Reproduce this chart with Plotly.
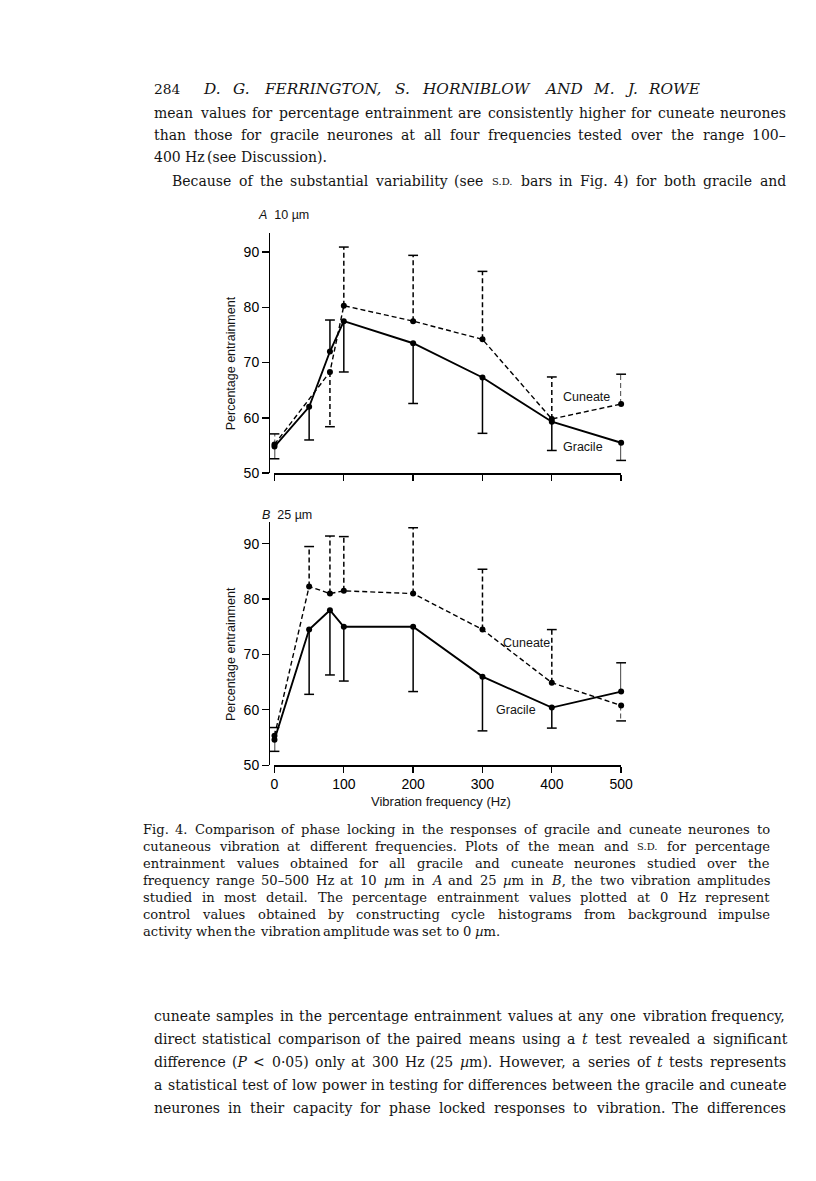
import re
import plotly.graph_objects as go

W, H = 816, 1181          # page (viewport) size
OFF = 8                   # default body margin of the html page
FW, FH = W - 2 * OFF, H - 2 * OFF   # figure size so the page fits exactly

# ---------------- data ----------------
freq_ticks = [0, 100, 200, 300, 400, 500]
y_ticks = [50, 60, 70, 80, 90]

# Panel A (10 um)
freq_A_gracile = [0, 50, 80, 100, 200, 300, 400, 500]
mean_A_gracile = [54.8, 62.0, 72.0, 77.5, 73.5, 67.3, 59.3, 55.5]
sdup_A_gracile = [0, 0, 5.7, 0, 0, 0, 0, 0]
sddn_A_gracile = [2.2, 6.0, 0, 9.2, 10.9, 10.1, 5.2, 3.2]

freq_A_cuneate = [0, 80, 100, 200, 300, 400, 500]
mean_A_cuneate = [55.2, 68.3, 80.3, 77.5, 74.2, 59.8, 62.5]
sdup_A_cuneate = [1.9, 0, 10.6, 11.9, 12.3, 7.6, 5.4]
sddn_A_cuneate = [0, 9.9, 0, 0, 0, 0, 0]

# Panel B (25 um)
freq_B_gracile = [0, 50, 80, 100, 200, 300, 400, 500]
mean_B_gracile = [54.6, 74.5, 78.0, 75.0, 75.0, 66.0, 60.4, 63.3]
sdup_B_gracile = [0, 0, 0, 0, 0, 0, 0, 5.2]
sddn_B_gracile = [2.1, 11.7, 11.7, 9.8, 11.7, 9.8, 3.7, 0]

freq_B_cuneate = [0, 50, 80, 100, 200, 300, 400, 500]
mean_B_cuneate = [55.3, 82.3, 81.0, 81.5, 81.0, 74.5, 64.9, 60.8]
sdup_B_cuneate = [1.5, 7.2, 10.4, 9.8, 11.9, 10.9, 9.6, 0]
sddn_B_cuneate = [0, 0, 0, 0, 0, 0, 0, 2.8]

header_num = "284"
header_authors = "D. G. FERRINGTON, S. HORNIBLOW AND M. J. ROWE"
body_top = [
    "mean values for percentage entrainment are consistently higher for cuneate neurones",
    "than those for gracile neurones at all four frequencies tested over the range 100–",
    "400 Hz (see Discussion).",
    "Because of the substantial variability (see {sd} bars in Fig. 4) for both gracile and",
]
caption = [
    "Fig. 4. Comparison of phase locking in the responses of gracile and cuneate neurones to",
    "cutaneous vibration at different frequencies. Plots of the mean and {sd} for percentage",
    "entrainment values obtained for all gracile and cuneate neurones studied over the",
    "frequency range 50–500 Hz at 10 *µ*m in *A* and 25 *µ*m in *B*, the two vibration amplitudes",
    "studied in most detail. The percentage entrainment values plotted at 0 Hz represent",
    "control values obtained by constructing cycle histograms from background impulse",
    "activity when the vibration amplitude was set to 0 *µ*m.",
]
body_bottom = [
    "cuneate samples in the percentage entrainment values at any one vibration frequency,",
    "direct statistical comparison of the paired means using a *t* test revealed a significant",
    "difference (*P* < 0·05) only at 300 Hz (25 *µ*m). However, a series of *t* tests represents",
    "a statistical test of low power in testing for differences between the gracile and cuneate",
    "neurones in their capacity for phase locked responses to vibration. The differences",
]

# ---------------- text helpers ----------------
SERIF = "DejaVu Serif, serif"
SANS = "Liberation Sans, Arial, Helvetica, sans-serif"
INK = "#141414"

# approximate advance widths of DejaVu Serif (units per 2048 em)
DV = {' ': 651, '.': 651, ',': 651, '(': 799, ')': 799, '-': 739, '–': 1024, '·': 651,
      '<': 1716, ':': 690, "'": 563, 'µ': 1300,
      'a': 1255, 'b': 1300, 'c': 1126, 'd': 1300, 'e': 1260, 'f': 721, 'g': 1300,
      'h': 1298, 'i': 660, 'j': 640, 'k': 1186, 'l': 660, 'm': 1995, 'n': 1298,
      'o': 1253, 'p': 1300, 'q': 1300, 'r': 980, 's': 1067, 't': 803, 'u': 1298,
      'v': 1212, 'w': 1675, 'x': 1212, 'y': 1212, 'z': 1075,
      'A': 1485, 'B': 1489, 'C': 1516, 'D': 1672, 'E': 1372, 'F': 1249, 'G': 1682,
      'H': 1632, 'I': 800, 'J': 780, 'K': 1424, 'L': 1209, 'M': 1873, 'N': 1624,
      'O': 1709, 'P': 1309, 'Q': 1709, 'R': 1508, 'S': 1378, 'T': 1326, 'U': 1589,
      'V': 1485, 'W': 2147, 'X': 1487, 'Y': 1326, 'Z': 1487}
for _d in '0123456789':
    DV[_d] = 1303

SD_SIZE = 10.0


def word_px(word, size):
    px = 0.0
    if '{sd}' in word:
        px += sum(DV[c] for c in 'S.D.') / 2048 * SD_SIZE
        word = word.replace('{sd}', '')
    px += sum(DV.get(c, 1250) for c in word.replace('*', '')) / 2048 * size
    return px


def markup(word):
    w = word.replace('<', '&lt;')
    w = w.replace('{sd}', "<span style='font-size:%gpx'>S.D.</span>" % SD_SIZE)
    w = re.sub(r'\*([^*]+)\*', r'<i>\1</i>', w)
    return w


def CX(x):
    return (x - 4.9) / 0.981


def CY(y):
    return (y + 1.5) / 0.994


def fx(px):            # page pixel -> figure paper x
    return (px - OFF) / FW


def fy(py):            # page pixel -> figure paper y
    return 1 - (py - OFF) / FH


annotations = []


def px_ann(text, x, y, size, family=SANS, xanchor='left', angle=0, color=INK):
    annotations.append(dict(
        x=fx(x), y=fy(y), xref='paper', yref='paper', xanchor=xanchor,
        yanchor='middle', text=text, showarrow=False, textangle=angle,
        borderpad=0, font=dict(family=family, size=size, color=color)))


MIN_GAP = 2.5


def place_line(text, x0, x1, y, size, justify=True, family=SERIF, scale=1.0):
    words = text.split(' ')
    n = len(words)
    widths = [word_px(w, size) * scale for w in words]
    if justify and n > 1:
        need = sum(widths) + (n - 1) * MIN_GAP
        if need > x1 - x0:
            size = size * (x1 - x0 - (n - 1) * MIN_GAP) / sum(widths)
            widths = [word_px(w, size) * scale for w in words]
        gap = (x1 - x0 - sum(widths)) / (n - 1)
    else:
        gap = DV[' '] / 2048 * size
    x = x0
    for w, wd in zip(words, widths):
        px_ann(markup(w), x, y, size, family=family)
        x += wd + gap


# header
px_ann(header_num, CX(154), CY(88), 13.8, family=SERIF)
place_line(" ".join("*%s*" % w for w in header_authors.split(' ')), CX(203), CX(702), CY(88),
           15.3, scale=1.08)

BODY = 14.0
BX0, BX1 = CX(154), CX(786)
top_y = [112, 134, 156, 180]
for i, ln in enumerate(body_top):
    if i == 2:
        place_line(ln, BX0, BX1, CY(top_y[i]), BODY, justify=False)
    elif i == 3:
        place_line(ln, CX(172), BX1, CY(top_y[i]), BODY)
    else:
        place_line(ln, BX0, BX1, CY(top_y[i]), BODY)

bot_y = [1015, 1038, 1061, 1084, 1107]
for ln, y in zip(body_bottom, bot_y):
    place_line(ln, BX0, BX1, CY(y), BODY)

CAP = 13.1
for i, ln in enumerate(caption):
    place_line(ln, CX(143), CX(770), CY(829 + 17 * i), CAP, justify=(i < len(caption) - 1))

# ---------------- chart geometry (page pixels) ----------------
X0_PX, X500_PX = CX(275.5), CX(622.5)
YAX_PX = CX(270.0)
A_BOT, A_TOP, A_90 = CY(472.0), CY(232.0), CY(250.7)
B_BOT, B_TOP, B_90 = CY(764.3), CY(521.0), CY(542.7)
A_RANGE = [50, 50 + 40 * (A_BOT - A_TOP) / (A_BOT - A_90)]
B_RANGE = [50, 50 + 40 * (B_BOT - B_TOP) / (B_BOT - B_90)]

fig = go.Figure()


def add_series(xs, ys, up, dn, xa, ya, dash, lw):
    fig.add_trace(go.Scatter(
        x=xs, y=ys, mode='lines+markers', xaxis=xa, yaxis=ya, cliponaxis=False,
        line=dict(color='black', width=lw, dash=dash),
        marker=dict(color='black', size=6), hoverinfo='skip'))
    ex, ey, cx, cy = [], [], [], []
    for x, m, u, d in zip(xs, ys, up, dn):
        if u > 0:
            ex += [x, x, None]
            ey += [m, m + u, None]
            cx.append(x)
            cy.append(m + u)
        if d > 0:
            ex += [x, x, None]
            ey += [m, m - d, None]
            cx.append(x)
            cy.append(m - d)
    fig.add_trace(go.Scatter(
        x=ex, y=ey, mode='lines', xaxis=xa, yaxis=ya, cliponaxis=False,
        line=dict(color='black', width=1.5, dash=dash), hoverinfo='skip'))
    fig.add_trace(go.Scatter(
        x=cx, y=cy, mode='markers', xaxis=xa, yaxis=ya, cliponaxis=False,
        marker=dict(symbol='line-ew', size=7, color='black',
                    line=dict(color='black', width=1.5)), hoverinfo='skip'))


DASH = '5px,3px'
add_series(freq_A_cuneate, mean_A_cuneate, sdup_A_cuneate, sddn_A_cuneate, 'x', 'y', DASH, 1.4)
add_series(freq_A_gracile, mean_A_gracile, sdup_A_gracile, sddn_A_gracile, 'x', 'y', 'solid', 1.9)
add_series(freq_B_cuneate, mean_B_cuneate, sdup_B_cuneate, sddn_B_cuneate, 'x2', 'y2', DASH, 1.4)
add_series(freq_B_gracile, mean_B_gracile, sdup_B_gracile, sddn_B_gracile, 'x2', 'y2', 'solid', 1.9)

tickfont = dict(family=SANS, size=14, color='black')
xcommon = dict(range=[0, 500], domain=[fx(X0_PX), fx(X500_PX)], tickvals=freq_ticks,
               ticks='outside', ticklen=6, tickwidth=1.3, tickcolor='black',
               showline=True, linecolor='black', linewidth=1.4, showgrid=False,
               zeroline=False, tickfont=dict(family=SANS, size=14, color='black'),
               fixedrange=True)
ycommon = dict(tickvals=y_ticks, ticks='outside', ticklen=7, tickwidth=1.3,
               tickcolor='black', showline=True, linecolor='black', linewidth=1.4,
               showgrid=False, zeroline=False, tickfont=tickfont, anchor='free',
               position=fx(YAX_PX), fixedrange=True)

fig.update_layout(
    width=FW, height=FH, margin=dict(l=0, r=0, t=0, b=0), autosize=False,
    paper_bgcolor='white', plot_bgcolor='white', showlegend=False,
    xaxis=dict(xcommon, anchor='y', showticklabels=False),
    yaxis=dict(ycommon, range=A_RANGE, domain=[fy(A_BOT), fy(A_TOP)]),
    xaxis2=dict(xcommon, anchor='y2', showticklabels=True),
    yaxis2=dict(ycommon, range=B_RANGE, domain=[fy(B_BOT), fy(B_TOP)]),
)

# chart labels
px_ann("<i>A</i>  10 µm", CX(258), CY(214), 12.5)
px_ann("<i>B</i>  25 µm", CX(262), CY(514), 12.5)
px_ann("Percentage entrainment", CX(232), CY(362), 12.5, xanchor='center', angle=-90)
px_ann("Percentage entrainment", CX(232), CY(653), 12.5, xanchor='center', angle=-90)
px_ann("Vibration frequency (Hz)", CX(442), CY(801), 13, xanchor='center')
px_ann("Cuneate", CX(588), CY(396), 12.5, xanchor='center')
px_ann("Gracile", CX(584), CY(446), 12.5, xanchor='center')
px_ann("Cuneate", CX(528), CY(642), 12.5, xanchor='center')
px_ann("Gracile", CX(517), CY(709), 12.5, xanchor='center')

fig.update_layout(annotations=annotations)
fig.write_html("out.html", config={'staticPlot': True})
